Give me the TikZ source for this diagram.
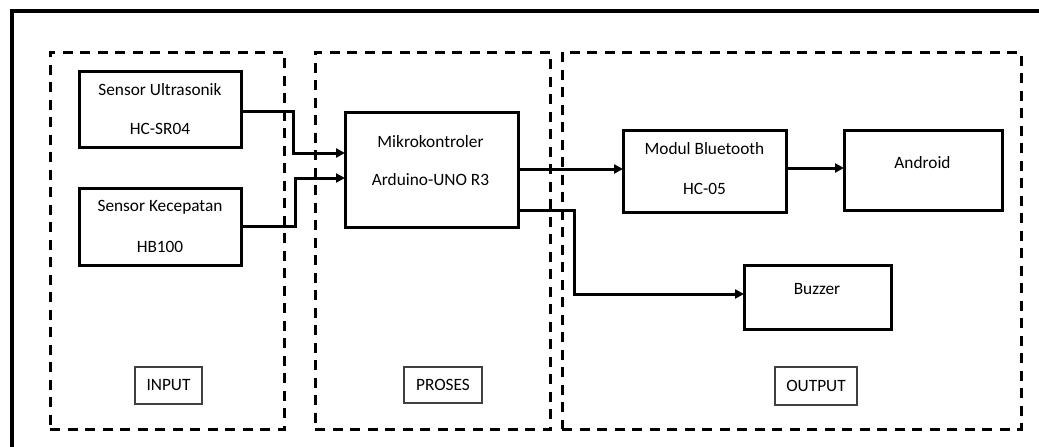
\documentclass[tikz,border=0pt]{standalone}
\usepackage{fontspec}
\setmainfont{Carlito}
\usetikzlibrary{arrows.meta}
\tikzset{
  blk/.style={draw, line width=3pt, rectangle, inner sep=0pt, outer sep=0pt},
  grp/.style={draw, line width=3pt, dash pattern=on 10pt off 7.5pt, rectangle, inner sep=0pt, outer sep=0pt},
  lbl/.style={draw=black!75, line width=1.2pt, rectangle, inner sep=0pt, outer sep=0pt, font=\fontsize{17.3}{20}\selectfont},
  txt/.style={inner sep=0pt, font=\fontsize{17.3}{20}\selectfont},
  conn/.style={line width=3pt, -{Triangle[length=9pt,width=9pt]}},
}
\begin{document}
\begin{tikzpicture}[x=1pt,y=-1pt]
\useasboundingbox (0,0) rectangle (1039,447);
\begin{scope}
\clip (0,0) rectangle (1039,447);
\draw[line width=4pt] (11.5,470) -- (11.5,10.5) -- (1060,10.5);
\end{scope}
% groups
\node[grp, minimum width=234pt, minimum height=377pt] (gin) at (167,240.5) {};
\node[grp, minimum width=235pt, minimum height=377pt] (gpr) at (432.5,240.5) {};
\node[grp, minimum width=459pt, minimum height=377pt] (gout) at (791.5,240.5) {};
% blocks
\node[blk, minimum width=162pt, minimum height=76pt] (us) at (160,109) {};
\node[blk, minimum width=162pt, minimum height=77pt] (kc) at (160,226.5) {};
\node[blk, minimum width=173pt, minimum height=115pt] (mk) at (431.5,169.5) {};
\node[blk, minimum width=163pt, minimum height=82pt] (bt) at (704.5,171) {};
\node[blk, minimum width=158pt, minimum height=80pt] (an) at (923,170) {};
\node[blk, minimum width=147pt, minimum height=64pt] (bz) at (817.5,297) {};
% texts
\node[txt] (us1) at (160,90) {Sensor Ultrasonik};
\node[txt] (us2) at (160,129) {HC-SR04};
\node[txt] (kc1) at (160,207) {Sensor Kecepatan};
\node[txt] (kc2) at (160,247) {HB100};
\node[txt] (mk1) at (430.5,142) {Mikrokontroler};
\node[txt] (mk2) at (430.5,180) {Arduino-UNO R3};
\node[txt] (bt1) at (704.5,149) {Modul Bluetooth};
\node[txt] (bt2) at (704.5,189) {HC-05};
\node[txt] (an1) at (922.5,163) {Android};
\node[txt] (bz1) at (817,289) {Buzzer};
% labels
\node[lbl, minimum width=67pt, minimum height=37pt] (lin) at (168.5,385.5) {INPUT};
\node[lbl, minimum width=78pt, minimum height=36pt] (lpr) at (443,385) {PROSES};
\node[lbl, minimum width=82pt, minimum height=38pt] (lout) at (816,386) {OUTPUT};
% connectors
\draw[conn] ([yshift=-2pt]us.east) -- ++(52,0) |- ([yshift=16.5pt]mk.west);
\draw[conn] (kc.east) -- ++(54,0) |- ([yshift=-8.5pt]mk.west);
\draw[conn] ([yshift=0.5pt]mk.east) -- ([yshift=0.5pt]mk.east -| bt.west);
\draw[conn] ([yshift=-40.5pt]mk.east) -- ++(56,0) |- ([yshift=3pt]bz.west);
\draw[conn] ([yshift=3pt]bt.east) -- ([yshift=3pt]bt.east -| an.west);
\end{tikzpicture}
\end{document}
